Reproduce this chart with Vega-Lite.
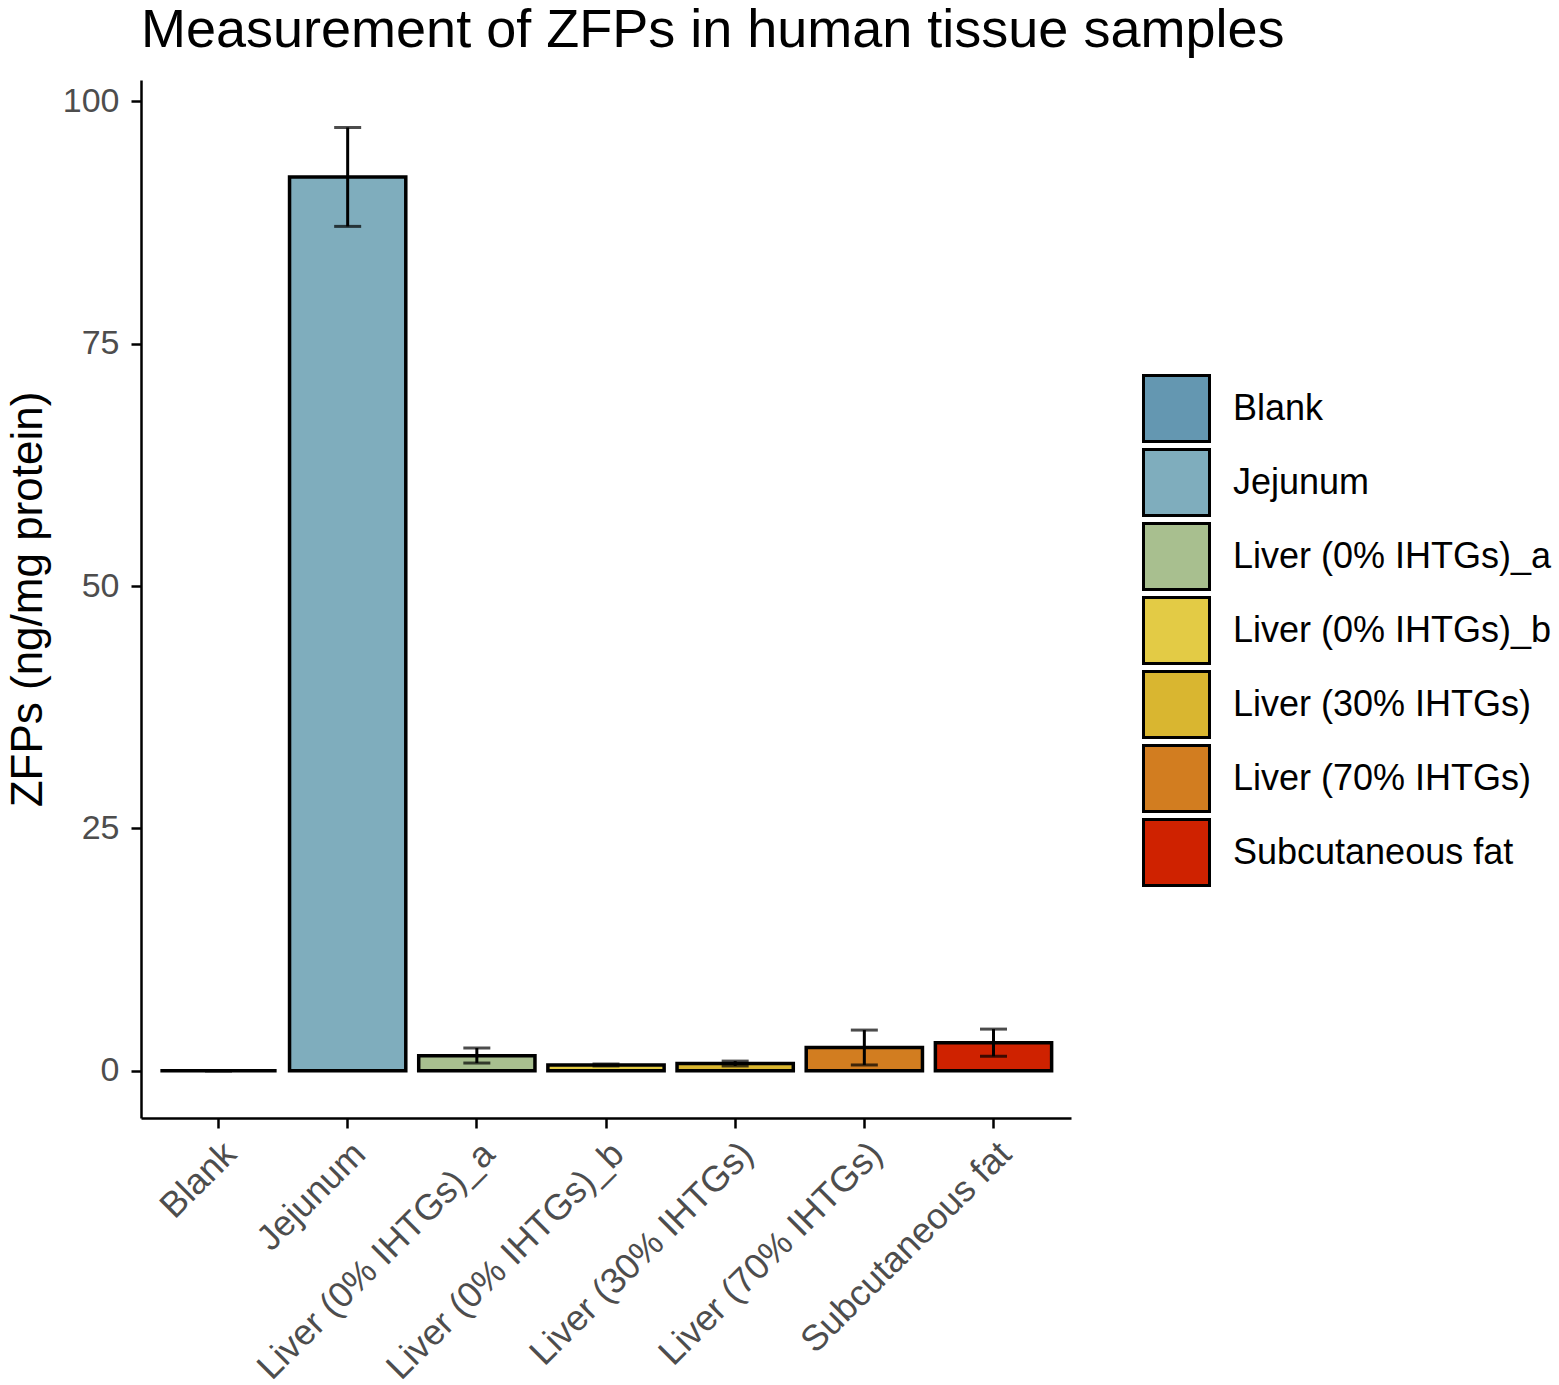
{
  "$schema": "https://vega.github.io/schema/vega-lite/v6.json",
  "autosize": {"type": "none"},
  "padding": {"left": 141, "top": 80, "right": 488, "bottom": 267},
  "width": 930,
  "height": 1038,
  "background": "white",
  "title": {
    "text": "Measurement of ZFPs in human tissue samples",
    "anchor": "start",
    "frame": "group",
    "fontSize": 54,
    "fontWeight": "normal",
    "font": "Liberation Sans",
    "color": "black",
    "offset": 22
  },
  "data": {
    "values": [
      {"tissue": "Blank", "mean": 0, "lo": 0, "hi": 0},
      {"tissue": "Jejunum", "mean": 92.2, "lo": 87.1, "hi": 97.3},
      {"tissue": "Liver (0% IHTGs)_a", "mean": 1.55, "lo": 0.8, "hi": 2.35},
      {"tissue": "Liver (0% IHTGs)_b", "mean": 0.6, "lo": 0.5, "hi": 0.7},
      {"tissue": "Liver (30% IHTGs)", "mean": 0.75, "lo": 0.5, "hi": 1.0},
      {"tissue": "Liver (70% IHTGs)", "mean": 2.4, "lo": 0.6, "hi": 4.2},
      {"tissue": "Subcutaneous fat", "mean": 2.9, "lo": 1.5, "hi": 4.3}
    ]
  },
  "encoding": {
    "x": {
      "field": "tissue",
      "type": "nominal",
      "sort": null,
      "scale": {"paddingInner": 0.1, "paddingOuter": 0.15},
      "axis": {
        "title": null,
        "labelAngle": -45,
        "labelAlign": "right",
        "labelBaseline": "top",
        "labelFontSize": 36,
        "labelColor": "#4D4D4D",
        "labelFont": "Liberation Sans",
        "labelPadding": 8,
        "labelLimit": 600,
        "labelOverlap": false,
        "tickColor": "black",
        "tickWidth": 2.5,
        "tickSize": 10,
        "domainColor": "black",
        "domainWidth": 2.5
      }
    }
  },
  "layer": [
    {
      "mark": {"type": "bar", "stroke": "black", "strokeWidth": 3.5},
      "encoding": {
        "y": {
          "field": "mean",
          "type": "quantitative",
          "scale": {"domain": [-4.87, 102.2], "nice": false, "zero": false},
          "axis": {
            "title": "ZFPs (ng/mg protein)",
            "titleFontSize": 44,
            "titleFontWeight": "normal",
            "titleFont": "Liberation Sans",
            "titleColor": "black",
            "titlePadding": 12,
            "values": [0, 25, 50, 75, 100],
            "labelFontSize": 34,
            "labelColor": "#4D4D4D",
            "labelFont": "Liberation Sans",
            "labelPadding": 12,
            "tickColor": "black",
            "tickWidth": 2.5,
            "tickSize": 10,
            "domainColor": "black",
            "domainWidth": 2.5,
            "grid": false
          }
        },
        "y2": {"datum": 0},
        "fill": {
          "field": "tissue",
          "type": "nominal",
          "sort": null,
          "scale": {
            "range": ["#6497B1", "#7FADBD", "#A8BF8F", "#E3CB45", "#D9B630", "#D27D20", "#CF2200"]
          },
          "legend": {
            "title": null,
            "orient": "none",
            "legendX": 1001,
            "legendY": 294,
            "symbolType": "square",
            "symbolSize": 4356,
            "symbolStrokeColor": "black",
            "symbolStrokeWidth": 3,
            "symbolOpacity": 1,
            "labelFontSize": 36,
            "labelFont": "Liberation Sans",
            "labelColor": "black",
            "labelOffset": 22,
            "rowPadding": -11,
            "labelLimit": 400
          }
        }
      }
    },
    {
      "mark": {"type": "rule", "color": "black", "strokeWidth": 3},
      "encoding": {
        "y": {"field": "lo", "type": "quantitative"},
        "y2": {"field": "hi"}
      }
    },
    {
      "mark": {"type": "tick", "color": "black", "thickness": 3, "size": 27},
      "encoding": {"y": {"field": "lo", "type": "quantitative"}}
    },
    {
      "mark": {"type": "tick", "color": "black", "thickness": 3, "size": 27},
      "encoding": {"y": {"field": "hi", "type": "quantitative"}}
    }
  ],
  "config": {
    "view": {"stroke": null},
    "font": "Liberation Sans"
  }
}
